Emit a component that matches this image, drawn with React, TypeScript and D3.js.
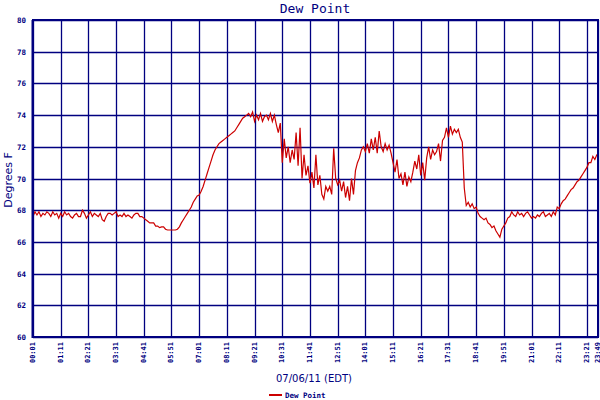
import React from "react";
import * as d3 from "d3";

// Tick labels along the time axis (EDT, 07/06/11)
const timeTickLabels = [
  "00:01", "01:11", "02:21", "03:31", "04:41", "05:51", "07:01", "08:11",
  "09:21", "10:31", "11:41", "12:51", "14:01", "15:11", "16:21", "17:31",
  "18:41", "19:51", "21:01", "22:11", "23:21", "23:49",
];
const yTickValues = [60, 62, 64, 66, 68, 70, 72, 74, 76, 78, 80];

// Dew point readings (°F), one every 5 minutes starting at 00:01, by hour
const dewH00 = [67.6, 67.9, 67.7, 67.9, 67.6, 67.8, 67.7, 67.9, 67.8, 67.6, 67.9, 67.7];
const dewH01 = [67.8, 67.5, 67.8, 67.6, 67.9, 67.7, 67.8, 67.6, 67.5, 67.7, 67.8, 67.6];
const dewH02 = [67.6, 68.0, 67.8, 67.5, 67.7, 67.9, 67.6, 67.8, 67.7, 67.6, 67.8, 67.4];
const dewH03 = [67.3, 67.6, 67.8, 67.8, 67.7, 67.8, 67.9, 67.6, 67.7, 67.6, 67.8, 67.6];
const dewH04 = [67.7, 67.6, 67.5, 67.7, 67.8, 67.8, 67.6, 67.6, 67.5, 67.4, 67.3, 67.2];
const dewH05 = [67.2, 67.2, 67.0, 67.0, 66.9, 66.95, 66.95, 66.8, 66.75, 66.75, 66.75, 66.75];
const dewH06 = [66.75, 66.8, 66.95, 67.2, 67.4, 67.6, 67.8, 68.0, 68.2, 68.5, 68.7, 68.9];
const dewH07 = [68.95, 69.2, 69.5, 69.9, 70.3, 70.7, 71.1, 71.5, 71.8, 72.0, 72.2, 72.3];
const dewH08 = [72.4, 72.5, 72.6, 72.7, 72.8, 72.9, 73.0, 73.2, 73.4, 73.6, 73.8, 73.9];
const dewH09 = [74.0, 74.1, 73.9, 74.2, 73.6, 74.0, 73.7, 74.1, 73.6, 73.9, 74.0, 73.7];
const dewH10 = [74.1, 73.6, 74.0, 73.4, 72.9, 73.5, 71.0, 72.5, 71.3, 72.0, 71.0, 71.8];
const dewH11 = [71.2, 72.9, 70.8, 73.2, 70.0, 71.5, 70.2, 70.8, 69.7, 70.4, 69.4, 71.5];
const dewH12 = [69.6, 70.2, 69.0, 68.7, 69.5, 69.2, 69.5, 69.0, 71.9, 70.0, 69.6, 69.9];
const dewH13 = [69.2, 69.8, 68.8, 69.5, 68.6, 70.0, 69.0, 70.5, 71.0, 71.3, 71.8, 72.0];
const dewH14 = [71.7, 72.2, 71.6, 72.5, 71.8, 72.6, 71.6, 73.0, 72.0, 71.7, 72.2, 71.8];
const dewH15 = [72.1, 71.6, 71.0, 70.4, 71.2, 70.0, 70.3, 69.6, 70.4, 69.5, 70.1, 69.8];
const dewH16 = [70.4, 71.1, 70.6, 71.5, 70.2, 71.0, 69.9, 71.3, 72.0, 71.2, 71.8, 71.5];
const dewH17 = [71.7, 72.2, 71.1, 72.4, 72.6, 73.2, 72.6, 73.3, 72.8, 73.1, 72.9, 73.1];
const dewH18 = [72.6, 72.3, 69.4, 68.3, 68.5, 68.2, 68.4, 68.1, 68.2, 67.8, 67.6, 67.5];
const dewH19 = [67.4, 67.5, 67.2, 67.1, 66.9, 67.0, 66.7, 66.5, 66.3, 66.8, 67.0, 67.2];
const dewH20 = [67.5, 67.6, 67.9, 67.7, 67.6, 67.9, 67.7, 67.8, 67.6, 67.8, 67.9, 67.7];
const dewH21 = [67.5, 67.6, 67.5, 67.7, 67.6, 67.8, 67.9, 67.6, 67.7, 67.8, 67.6, 67.9];
const dewH22 = [67.7, 68.2, 68.1, 68.4, 68.6, 68.7, 68.9, 69.1, 69.3, 69.4, 69.6, 69.8];
const dewH23 = [69.9, 70.1, 70.3, 70.5, 70.7, 71.0, 71.0, 71.4, 71.2, 71.5];
const lastReadingTime = "23:49";
const lastReadingValue = 71.5;

const toMin = (s: string) => {
  const [h, m] = s.split(":").map(Number);
  return h * 60 + m;
};

export default function App() {
  const W = 600, H = 400;
  const left = 33, right = 598, top = 20, bottom = 337;
  const navy = "#000080";

  const hourly = [dewH00, dewH01, dewH02, dewH03, dewH04, dewH05, dewH06, dewH07,
    dewH08, dewH09, dewH10, dewH11, dewH12, dewH13, dewH14, dewH15, dewH16, dewH17,
    dewH18, dewH19, dewH20, dewH21, dewH22, dewH23];
  const points: [number, number][] = [];
  hourly.forEach((arr, h) => arr.forEach((v, i) => points.push([h * 60 + 1 + i * 5, v])));
  points.push([toMin(lastReadingTime), lastReadingValue]);

  const x = d3.scaleLinear().domain([toMin(timeTickLabels[0]), toMin(timeTickLabels[timeTickLabels.length - 1])]).range([left, right]);
  const y = d3.scaleLinear().domain([60, 80]).range([bottom, top]);
  const line = d3.line<[number, number]>().x(d => x(d[0])).y(d => y(d[1]));

  const mono = "'DejaVu Sans Mono', monospace";
  return (
    <svg width={W} height={H} style={{ position: "absolute", left: 0, top: 0, background: "#fff" }}>
      <rect x={0} y={0} width={W} height={H} fill="#fff" />
      <text x={315} y={13} textAnchor="middle" fontFamily={mono} fontSize={13} fill={navy}>Dew Point</text>
      {yTickValues.map(v => (
        <g key={v}>
          <line x1={left} x2={right} y1={Math.round(y(v)) + 0.5} y2={Math.round(y(v)) + 0.5} stroke={navy} strokeWidth={1.3} />
          <text x={26} y={y(v) + 3} textAnchor="end" fontFamily={mono} fontWeight="bold" fontSize={7.5} fill={navy}>{v}</text>
        </g>
      ))}
      {timeTickLabels.map(t => {
        const xp = Math.round(x(toMin(t))) + 0.5;
        const bx = Math.min(xp + 1.5, 599.5);
        return (
          <g key={t}>
            <line x1={xp} x2={xp} y1={top} y2={bottom} stroke={navy} strokeWidth={1.3} />
            <text transform={`translate(${bx},${342}) rotate(-90)`} textAnchor="end" fontFamily={mono} fontWeight="bold" fontSize={7} fill={navy}>{t}</text>
          </g>
        );
      })}
      <path d={line(points) || ""} fill="none" stroke="#cc0000" strokeWidth={1.2} />
      <rect x={left} y={top} width={right - left} height={bottom - top} fill="none" stroke={navy} strokeWidth={2} />
      <line x1={left - 0.5} x2={left - 0.5} y1={top} y2={bottom + 1} stroke={navy} strokeWidth={2} />
      <text transform={`translate(12,180) rotate(-90)`} textAnchor="middle" fontFamily="'DejaVu Sans', sans-serif" fontSize={11} fill={navy}>Degrees F</text>
      <text x={314} y={382} textAnchor="middle" fontFamily="'DejaVu Sans', sans-serif" fontSize={10} fill={navy}>07/06/11 (EDT)</text>
      <line x1={269} x2={282} y1={395} y2={395} stroke="#cc0000" strokeWidth={2} />
      <text x={285} y={397.5} fontFamily={mono} fontWeight="bold" fontSize={7.5} fill={navy}>Dew Point</text>
    </svg>
  );
}
